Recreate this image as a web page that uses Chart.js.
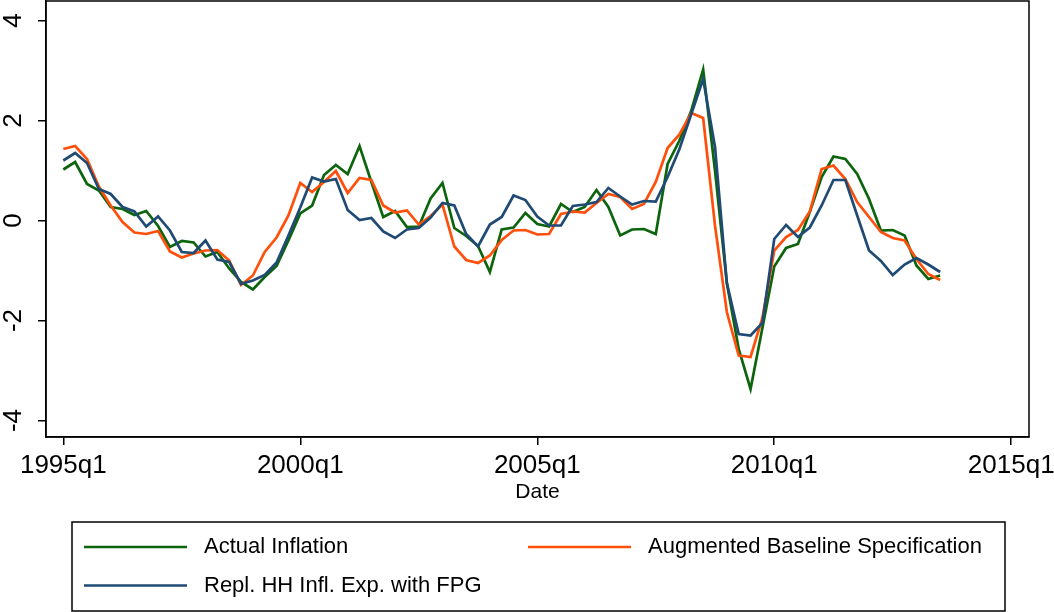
<!DOCTYPE html>
<html>
<head>
<meta charset="utf-8">
<title>Inflation vs. expectations</title>
<script src="https://cdn.jsdelivr.net/npm/chart.js@4.4.1/dist/chart.umd.min.js"></script>
<style>
  html, body { margin: 0; padding: 0; background: #fff; }
  canvas { display: block; }
</style>
</head>
<body>
<canvas id="inflationChart" width="1054" height="612"></canvas>
<script>
// Quarterly values, index 0 = 1995q1 ... index 74 = 2013q3
const actualInflation = [
    1.02, 1.17, 0.73, 0.60, 0.27, 0.23, 0.11, 0.19, -0.11, -0.53,
    -0.41, -0.44, -0.72, -0.63, -0.96, -1.23, -1.38, -1.13, -0.91, -0.40,
    0.14, 0.30, 0.91, 1.11, 0.93, 1.49, 0.77, 0.07, 0.19, -0.13,
    -0.12, 0.44, 0.75, -0.15, -0.31, -0.51, -1.03, -0.18, -0.14, 0.15,
    -0.07, -0.12, 0.33, 0.17, 0.27, 0.61, 0.27, -0.30, -0.18, -0.17,
    -0.27, 1.13, 1.60, 2.20, 3.02, 1.00, -1.25, -2.57, -3.37, -2.15,
    -0.92, -0.55, -0.47, 0.17, 0.87, 1.28, 1.23, 0.93, 0.43, -0.20,
    -0.19, -0.30, -0.90, -1.17, -1.10
];
const augmentedBaseline = [
    1.43, 1.49, 1.23, 0.68, 0.30, -0.03, -0.24, -0.27, -0.21, -0.62,
    -0.74, -0.66, -0.60, -0.59, -0.80, -1.29, -1.10, -0.63, -0.34, 0.10,
    0.75, 0.57, 0.77, 0.99, 0.55, 0.85, 0.81, 0.30, 0.16, 0.20,
    -0.08, 0.09, 0.32, -0.52, -0.79, -0.85, -0.70, -0.39, -0.20, -0.19,
    -0.28, -0.27, 0.13, 0.18, 0.16, 0.35, 0.53, 0.47, 0.23, 0.33,
    0.77, 1.45, 1.72, 2.15, 2.05, -0.10, -1.83, -2.70, -2.73, -1.95,
    -0.60, -0.33, -0.19, 0.18, 1.03, 1.10, 0.83, 0.37, 0.07, -0.23,
    -0.35, -0.40, -0.77, -1.07, -1.19
];
const replHHExpFPG = [
    1.20, 1.35, 1.15, 0.63, 0.53, 0.27, 0.18, -0.12, 0.08, -0.20,
    -0.63, -0.65, -0.40, -0.78, -0.83, -1.27, -1.20, -1.09, -0.84, -0.30,
    0.26, 0.86, 0.78, 0.83, 0.21, 0.01, 0.05, -0.22, -0.35, -0.18,
    -0.15, 0.06, 0.35, 0.30, -0.27, -0.52, -0.08, 0.07, 0.50, 0.41,
    0.08, -0.10, -0.10, 0.29, 0.32, 0.37, 0.65, 0.48, 0.32, 0.39,
    0.38, 0.87, 1.43, 2.13, 2.83, 1.47, -1.25, -2.27, -2.30, -2.05,
    -0.37, -0.09, -0.33, -0.14, 0.30, 0.81, 0.81, 0.10, -0.60, -0.81,
    -1.09, -0.88, -0.75, -0.88, -1.03
];

const xTickValues = [0, 20, 40, 60, 80];
const xTickLabels = ['1995q1', '2000q1', '2005q1', '2010q1', '2015q1'];
const yTickValues = [-4, -2, 0, 2, 4];

const seriesNames = ['Actual Inflation', 'Augmented Baseline Specification', 'Repl. HH Infl. Exp. with FPG'];
const seriesColors = ['#0c650c', '#ff4f0a', '#1f4a73'];

const FONT = "'Liberation Sans', Arial, sans-serif";
Chart.defaults.font.family = FONT;
Chart.defaults.color = '#000';

// index -> {x, y} so the x axis can run past the last quarter
function toPoints(values) {
    return values.map((v, i) => ({ x: i, y: v }));
}

// outline round the plot region (top and right sides)
const frameBox = {
    id: 'frameBox',
    afterDraw(chart) {
        const { ctx, chartArea } = chart;
        ctx.save();
        ctx.strokeStyle = '#000';
        ctx.lineWidth = 1.5;
        ctx.strokeRect(chartArea.left, chartArea.top, chartArea.right - chartArea.left, chartArea.bottom - chartArea.top);
        ctx.restore();
    }
};

// Stata style legend: boxed, two columns, long sample lines
const boxLegend = {
    id: 'boxLegend',
    afterDraw(chart) {
        const ctx = chart.ctx;
        ctx.save();
        ctx.strokeStyle = '#000';
        ctx.lineWidth = 1.5;
        ctx.strokeRect(72, 522, 933, 89);
        ctx.font = '22px ' + FONT;
        ctx.textBaseline = 'middle';
        ctx.textAlign = 'left';
        chart.data.datasets.forEach((ds, i) => {
            const x = 84 + (i % 2) * 444;
            const y = 547 + Math.floor(i / 2) * 38.5;
            ctx.strokeStyle = ds.borderColor;
            ctx.lineWidth = 2.5;
            ctx.beginPath();
            ctx.moveTo(x, y);
            ctx.lineTo(x + 103, y);
            ctx.stroke();
            ctx.fillStyle = '#000';
            ctx.fillText(ds.label, x + 120, y);
        });
        ctx.restore();
    }
};

const seriesValues = [actualInflation, augmentedBaseline, replHHExpFPG];

const ctx = document.getElementById('inflationChart').getContext('2d');
const chart = new Chart(ctx, {
    type: 'line',
    data: {
        datasets: seriesValues.map((vals, i) => ({
            label: seriesNames[i],
            data: toPoints(vals),
            borderColor: seriesColors[i],
            borderWidth: 2.7,
            pointRadius: 0,
            tension: 0,
            fill: false,
            order: 2 - i
        }))
    },
    options: {
        responsive: false,
        devicePixelRatio: 1,
        animation: false,
        layout: { padding: { top: 1, right: 25, bottom: 100, left: 0 } },
        plugins: {
            legend: { display: false },
            tooltip: { enabled: false }
        },
        scales: {
            x: {
                type: 'linear',
                min: -1.46,
                max: 81.5,
                afterBuildTicks: s => { s.ticks = xTickValues.map(v => ({ value: v })); },
                afterFit: s => { s.height = 75; s.paddingLeft = 0; s.paddingRight = 0; },
                border: { display: true, color: '#000', width: 1.5 },
                grid: { drawOnChartArea: false, drawTicks: true, tickLength: 8, color: '#000', lineWidth: 1.5 },
                ticks: {
                    padding: 5,
                    maxRotation: 0,
                    minRotation: 0,
                    font: { size: 26 },
                    callback: v => xTickLabels[xTickValues.indexOf(v)]
                },
                title: { display: true, text: 'Date', font: { size: 21 }, padding: { top: 0, bottom: 7 } }
            },
            y: {
                min: -4.33,
                max: 4.39,
                afterBuildTicks: s => { s.ticks = yTickValues.map(v => ({ value: v })); },
                afterFit: s => { s.width = 46; s.paddingTop = 0; s.paddingBottom = 0; },
                border: { display: true, color: '#000', width: 1.5 },
                grid: { drawOnChartArea: false, drawTicks: true, tickLength: 8, color: '#000', lineWidth: 1.5 },
                ticks: {
                    minRotation: 90,
                    maxRotation: 90,
                    crossAlign: 'center',
                    padding: 13,
                    font: { size: 26 },
                    callback: v => String(v)
                }
            }
        }
    },
    plugins: [frameBox, boxLegend]
});
</script>
</body>
</html>
